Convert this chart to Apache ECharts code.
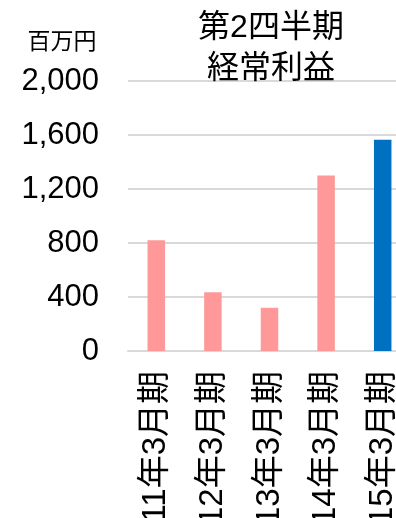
<!DOCTYPE html>
<html>
<head>
<meta charset="utf-8">
<script src="https://cdn.jsdelivr.net/npm/echarts@6/dist/echarts.min.js"></script>
<style>
html,body{margin:0;padding:0;background:#fff;}
#chart{width:396px;height:518px;}
</style>
</head>
<body>
<div id="chart"></div>
<script>
const categories = ["11年3月期", "12年3月期", "13年3月期", "14年3月期", "15年3月期"];
const profitValues = [820, 435, 320, 1300, 1565];
const yTicks = [0, 400, 800, 1200, 1600, 2000];
const titleLines = ["第2四半期", "経常利益"];
const unitLabel = "百万円";

const FONT = "'Liberation Sans', Arial, 'Noto Sans CJK JP', sans-serif";
const PINK = "#FF9999";
const BLUE = "#0070C0";

const chart = echarts.init(document.getElementById('chart'), null, {renderer: 'canvas'});
chart.setOption({
  animation: false,
  backgroundColor: '#fff',
  title: [
    {
      text: titleLines.join('\n'),
      left: 266, top: 3,
      textAlign: 'center',
      textStyle: {fontFamily: FONT, fontSize: 32, fontWeight: 'normal', color: '#000', lineHeight: 41}
    },
    {
      text: unitLabel,
      left: 57, top: 26,
      textAlign: 'center',
      textStyle: {fontFamily: FONT, fontSize: 23, fontWeight: 'normal', color: '#000'}
    }
  ],
  grid: {left: 128, right: -15, top: 81, bottom: 167, containLabel: false, outerBoundsMode: 'none'},
  xAxis: {
    type: 'category',
    data: categories,
    axisLine: {show: true, lineStyle: {color: '#D9D9D9', width: 2}},
    axisTick: {show: false},
    axisLabel: {rotate: 90, margin: 20, fontFamily: FONT, fontSize: 33, color: '#000', interval: 0}
  },
  yAxis: {
    type: 'value',
    min: yTicks[0],
    max: yTicks[yTicks.length - 1],
    interval: yTicks[1] - yTicks[0],
    axisLine: {show: false},
    axisTick: {show: false},
    splitLine: {show: true, lineStyle: {color: '#D9D9D9', width: 2}},
    axisLabel: {
      margin: 29, fontFamily: FONT, fontSize: 31, color: '#000',
      formatter: v => v.toLocaleString('en-US')
    }
  },
  series: [{
    type: 'bar',
    data: profitValues,
    barWidth: 17.5,
    itemStyle: {
      color: p => p.dataIndex === profitValues.length - 1 ? BLUE : PINK
    }
  }]
});
</script>
</body>
</html>
